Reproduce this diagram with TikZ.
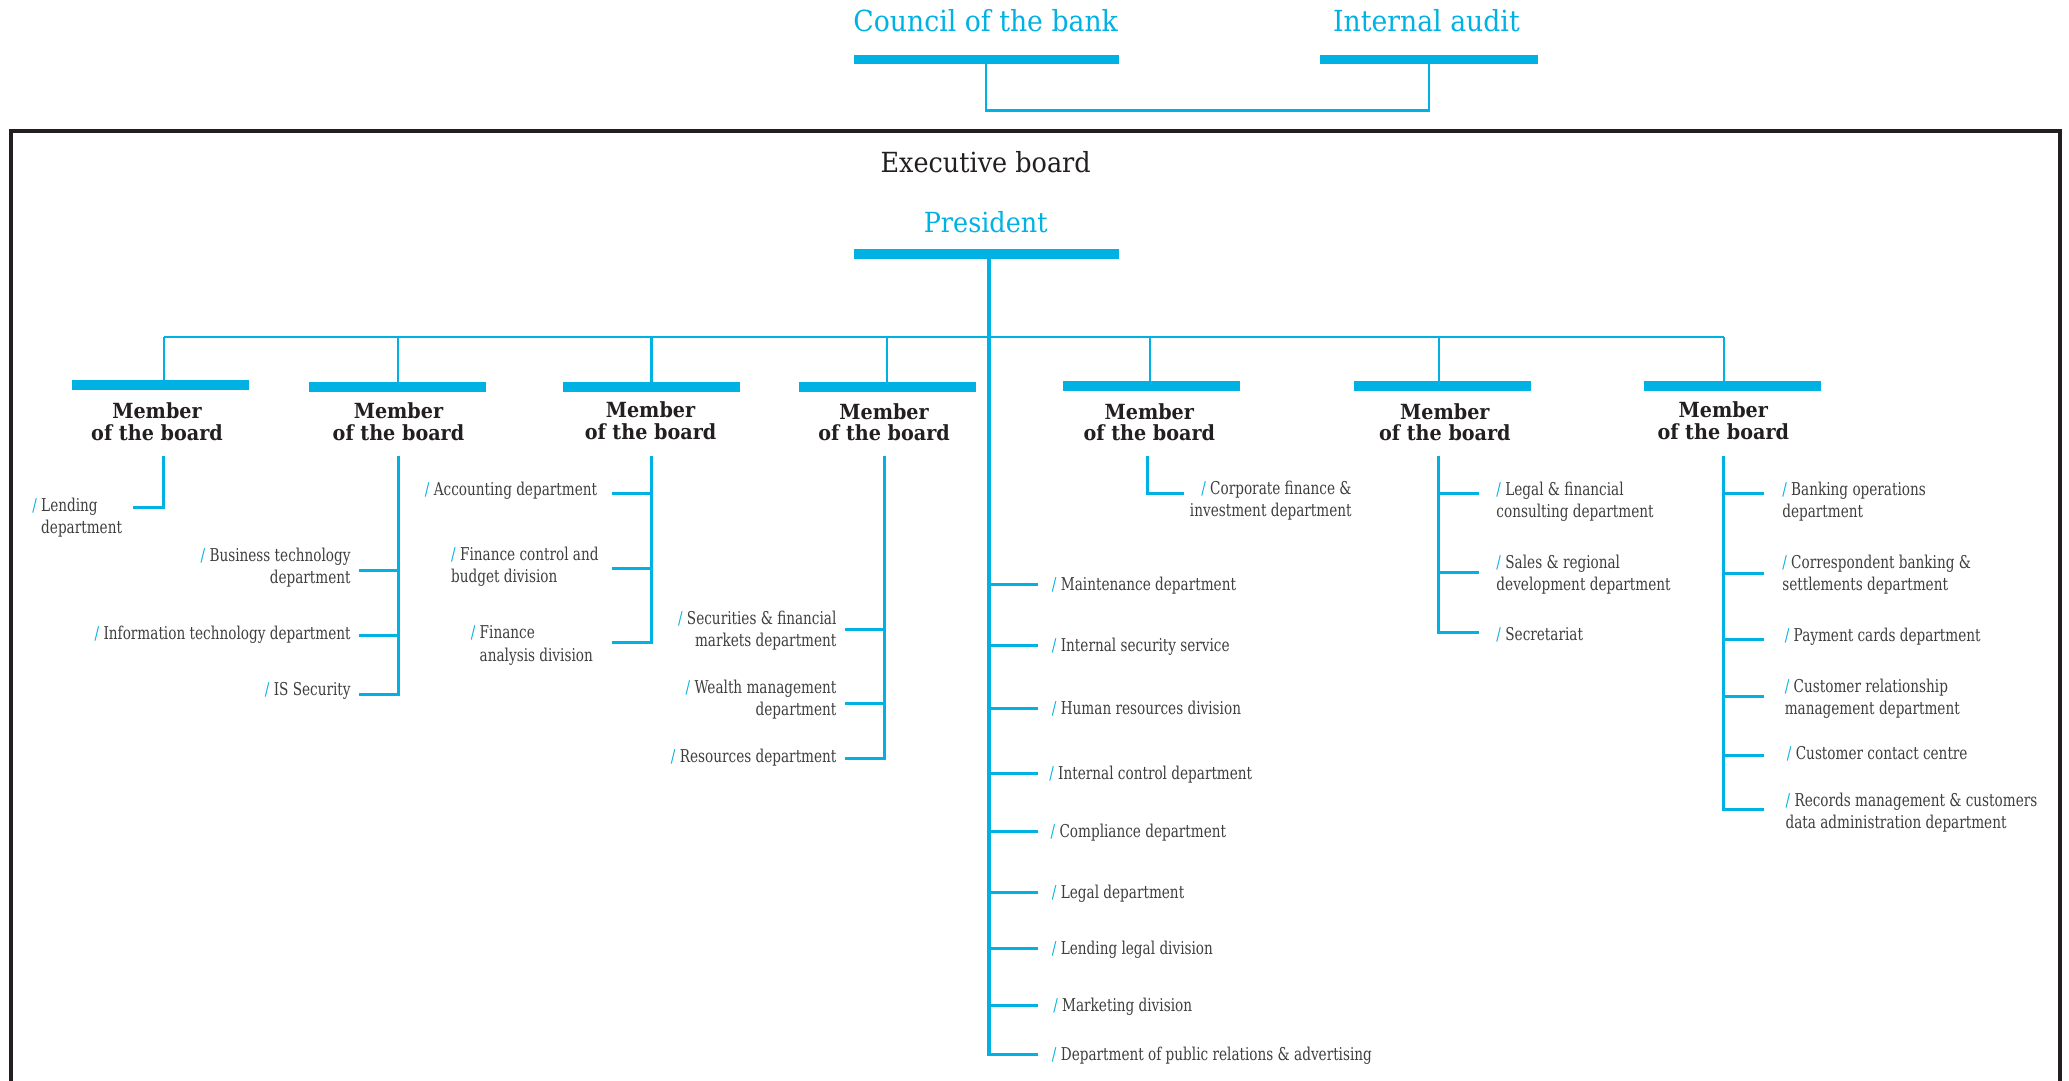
\documentclass[tikz,border=0pt]{standalone}
\usepackage{fontspec}
\setmainfont{DejaVu Serif}
\newfontfamily\deptfont[FakeStretch=0.77]{DejaVu Serif}
\newfontfamily\headfont[FakeStretch=0.92]{DejaVu Serif}
\definecolor{bankblue}{RGB}{0,178,227}
\definecolor{ink}{RGB}{35,31,32}
\definecolor{deptgray}{RGB}{62,62,62}
\newcommand{\dslash}{{\color{bankblue}/}\ }
\tikzset{
  bar/.style={fill=bankblue, inner sep=0pt, minimum height=7pt, minimum width=134pt},
  headtext/.style={font=\headfont\fontsize{22}{26}\selectfont, text=bankblue, anchor=base},
  member/.style={font=\headfont\bfseries\fontsize{15.8}{16.5}\selectfont, text=ink,
    align=center, inner sep=0pt, anchor=north},
  dept/.style={font=\deptfont\fontsize{13.4}{16.7}\selectfont, text=deptgray, inner sep=0pt},
  deptL/.style={dept, align=left, anchor=north west},
  deptR/.style={dept, align=right, anchor=north east},
  link/.style={draw=bankblue, line width=1.6pt},
  branch/.style={draw=bankblue, line width=2.3pt},
  frame/.style={draw=ink, line width=3pt},
}
\begin{document}
\begin{tikzpicture}[x=1pt, y=-1pt]
    \useasboundingbox (0,0) rectangle (1568,819.2);

    % top of the chart
    \node[headtext] (council) at (747,24) {Council of the bank};
    \node[bar, minimum width=201pt] (councilbar) at (747.5,45) {};
    \node[headtext] (audit) at (1081,24) {Internal audit};
    \node[bar, minimum width=165pt] (auditbar) at (1083.2,45) {};
    \draw[link] (councilbar.south) -- ++(0,35) -| (auditbar.south);

    % executive board frame, cut at the bottom
    \draw[frame] (8,819.2) |- (1561,99) -- (1561,819.2);
    \node[font=\headfont\fontsize{21}{24}\selectfont, text=ink, anchor=base] (exec) at (747,130.5) {Executive board};
    \node[headtext, font=\headfont\fontsize{21}{24}\selectfont] (pres) at (747,176) {President};
    \node[bar, minimum width=201pt, minimum height=7.5pt] (presbar) at (747.5,192.3) {};

    % coordinates to be reused
    \coordinate (trunk) at (749.5,196);
    \coordinate (d1) at (124.4,255.5);
    \coordinate (d2) at (301.8,255.5);
    \coordinate (d3) at (493.7,255.5);
    \coordinate (d4) at (672,255.5);
    \coordinate (d5) at (871.4,255.5);
    \coordinate (d6) at (1090.4,255.5);
    \coordinate (d7) at (1306.2,255.5);
    \coordinate (b1) at (124.2,345.9);
    \coordinate (b2) at (301.8,345.9);
    \coordinate (b3) at (493.7,345.9);
    \coordinate (b4) at (670.1,345.9);
    \coordinate (b5) at (869.6,345.9);
    \coordinate (b6) at (1090,345.9);
    \coordinate (b7) at (1306,345.9);

    % members of the board
    \node[bar] (m1) at (121.7,291.7) {};
    \node[bar] (m2) at (301,293.2) {};
    \node[bar] (m3) at (494,293.2) {};
    \node[bar] (m4) at (672.5,293.2) {};
    \node[bar] (m5) at (872.8,292.5) {};
    \node[bar] (m6) at (1093,292.5) {};
    \node[bar] (m7) at (1312.7,292.5) {};
    \node[member] (t1) at (119,305) {Member\\of the board};
    \node[member] (t2) at (302,305) {Member\\of the board};
    \node[member] (t3) at (493,304) {Member\\of the board};
    \node[member] (t4) at (670,305.5) {Member\\of the board};
    \node[member] (t5) at (871,305.5) {Member\\of the board};
    \node[member] (t6) at (1095,305.5) {Member\\of the board};
    \node[member] (t7) at (1306,304) {Member\\of the board};

    % bus from the president
    \draw[link] (d1) -- (d7);
    \draw[link] (d1) -- (d1 |- m1.north);
    \draw[link] (d2) -- (d2 |- m2.north);
    \draw[link] (d3) -- (d3 |- m3.north);
    \draw[link] (d4) -- (d4 |- m4.north);
    \draw[link] (d5) -- (d5 |- m5.north);
    \draw[link] (d6) -- (d6 |- m6.north);
    \draw[link] (d7) -- (d7 |- m7.north);

    % member 1
    \coordinate (e1) at (100.8,384.5);
    \draw[branch] (b1) |- (e1);
    \node[deptL] (lend) at (24.3,377.5) {\dslash Lending\\\hphantom{/\ }department};

    % member 2
    \coordinate (e21) at (272.4,432.6);
    \coordinate (e22) at (272.4,481.5);
    \coordinate (e23) at (272.4,526.2);
    \draw[branch] (b2) |- (e23);
    \draw[branch] (e21) -- (e21 -| b2);
    \draw[branch] (e22) -- (e22 -| b2);
    \node[deptR] (bustech) at (265.9,415.3) {\dslash Business technology\\department};
    \node[deptR] (infotech) at (265.9,474.2) {\dslash Information technology department};
    \node[deptR] (issec) at (265.9,516.9) {\dslash IS Security};

    % member 3
    \coordinate (e31) at (463.5,373.7);
    \coordinate (e32) at (463.5,430.8);
    \coordinate (e33) at (463.5,486.6);
    \draw[branch] (b3) |- (e33);
    \draw[branch] (e31) -- (e31 -| b3);
    \draw[branch] (e32) -- (e32 -| b3);
    \node[deptR] (acc) at (452.7,365.1) {\dslash Accounting department};
    \node[deptL] (fincontrol) at (341.7,414.7) {\dslash Finance control and\\budget division};
    \node[deptL] (finanalysis) at (356.6,474.2) {\dslash Finance\\\hphantom{/\ }analysis division};

    % member 4
    \coordinate (e41) at (640.3,477);
    \coordinate (e42) at (640.3,533);
    \coordinate (e43) at (640.3,574.8);
    \draw[branch] (b4) |- (e43);
    \draw[branch] (e41) -- (e41 -| b4);
    \draw[branch] (e42) -- (e42 -| b4);
    \node[deptR] (secur) at (634.1,463.1) {\dslash Securities \& financial\\markets department};
    \node[deptR] (wealth) at (634.1,514.9) {\dslash Wealth management\\department};
    \node[deptR] (resources) at (634.1,567.2) {\dslash Resources department};

    % member 5
    \coordinate (e5) at (897,374);
    \draw[branch] (b5) |- (e5);
    \node[deptR] (corpfin) at (1024.5,364.3) {\dslash Corporate finance \&\\investment department};

    % member 6
    \coordinate (e61) at (1120.7,373.7);
    \coordinate (e62) at (1120.7,433.5);
    \coordinate (e63) at (1120.7,479.7);
    \draw[branch] (b6) |- (e63);
    \draw[branch] (b6 |- e61) -- (e61);
    \draw[branch] (b6 |- e62) -- (e62);
    \node[deptL] (legalfin) at (1133.9,365.1) {\dslash Legal \& financial\\consulting department};
    \node[deptL] (sales) at (1133.9,420.3) {\dslash Sales \& regional\\development department};
    \node[deptL] (secret) at (1133.9,475.1) {\dslash Secretariat};

    % member 7
    \coordinate (e71) at (1336.9,373.7);
    \coordinate (e72) at (1336.9,434.8);
    \coordinate (e73) at (1336.9,484.4);
    \coordinate (e74) at (1336.9,527.7);
    \coordinate (e75) at (1336.9,572.9);
    \coordinate (e76) at (1336.9,613.3);
    \draw[branch] (b7) |- (e76);
    \draw[branch] (b7 |- e71) -- (e71);
    \draw[branch] (b7 |- e72) -- (e72);
    \draw[branch] (b7 |- e73) -- (e73);
    \draw[branch] (b7 |- e74) -- (e74);
    \draw[branch] (b7 |- e75) -- (e75);
    \node[deptL] (banking) at (1350.5,365.1) {\dslash Banking operations\\department};
    \node[deptL] (corresp) at (1350.5,420.3) {\dslash Correspondent banking \&\\settlements department};
    \node[deptL] (payment) at (1352.4,476.1) {\dslash Payment cards department};
    \node[deptL] (crm) at (1352.4,514.5) {\dslash Customer relationship\\management department};
    \node[deptL] (contact) at (1354,565.8) {\dslash Customer contact centre};
    \node[deptL] (records) at (1353,600.6) {\dslash Records management \& customers\\data administration department};

    % president's own departments
    \coordinate (p1) at (786.5,442.7);
    \coordinate (p2) at (786.5,489);
    \coordinate (p3) at (786.5,536.9);
    \coordinate (p4) at (786.5,586);
    \coordinate (p5) at (786.5,630.2);
    \coordinate (p6) at (786.5,676.2);
    \coordinate (p7) at (786.5,718.9);
    \coordinate (p8) at (786.5,762);
    \coordinate (p9) at (786.5,798.9);
    \draw[branch] (presbar.south -| trunk) |- (p9);
    \draw[branch] (trunk |- p1) -- (p1);
    \draw[branch] (trunk |- p2) -- (p2);
    \draw[branch] (trunk |- p3) -- (p3);
    \draw[branch] (trunk |- p4) -- (p4);
    \draw[branch] (trunk |- p5) -- (p5);
    \draw[branch] (trunk |- p6) -- (p6);
    \draw[branch] (trunk |- p7) -- (p7);
    \draw[branch] (trunk |- p8) -- (p8);
    \node[deptL] (maint) at (797,436.9) {\dslash Maintenance department};
    \node[deptL] (security) at (797,483.2) {\dslash Internal security service};
    \node[deptL] (hr) at (797,531.1) {\dslash Human resources division};
    \node[deptL] (control) at (795,580.2) {\dslash Internal control department};
    \node[deptL] (compl) at (796,624.4) {\dslash Compliance department};
    \node[deptL] (legal) at (797,670.4) {\dslash Legal department};
    \node[deptL] (lendlegal) at (797,713.1) {\dslash Lending legal division};
    \node[deptL] (market) at (798,756.2) {\dslash Marketing division};
    \node[deptL] (pr) at (797,793.1) {\dslash Department of public relations \& advertising};
\end{tikzpicture}
\end{document}
